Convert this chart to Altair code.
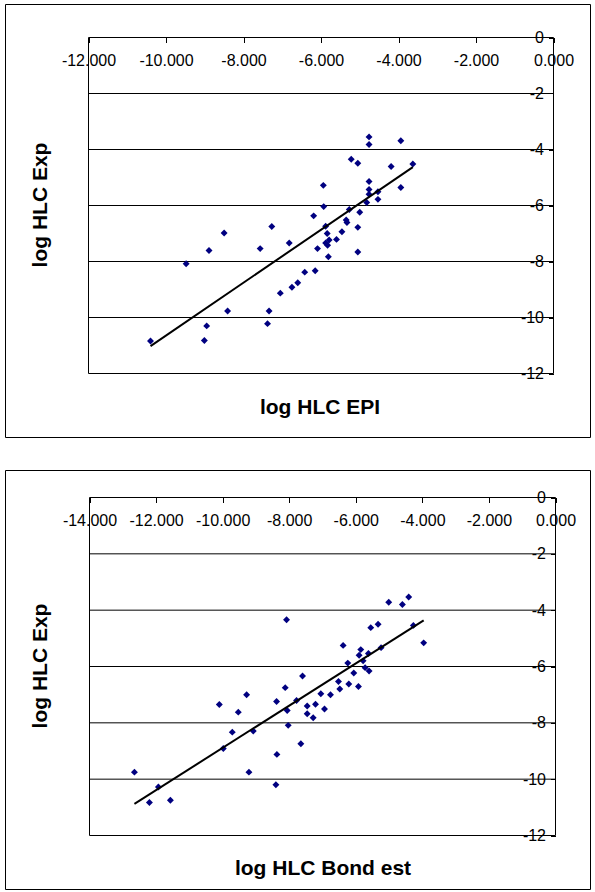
import altair as alt
import pandas as pd

# ---- data ----
epi_x = [-4.76, -4.76, -3.94, -5.22, -5.05, -4.19, -3.63, -5.94, -4.76, -3.94,
         -4.76, -4.53, -4.76, -4.53, -4.82, -5.93, -5.27, -5.00, -6.19, -5.35,
         -5.33, -5.88, -5.05, -7.27, -5.84, -5.46, -8.50, -5.60, -5.79, -5.88,
         -5.83, -6.82, -7.57, -6.09, -8.89, -5.81, -5.05, -9.48, -6.15, -6.42,
         -6.60, -6.75, -7.05, -7.34, -8.41, -7.38, -8.95, -9.01, -10.40]
epi_y = [-3.55, -3.82, -3.69, -4.35, -4.49, -4.61, -4.52, -5.28, -5.14, -5.36,
         -5.43, -5.51, -5.60, -5.78, -5.89, -6.04, -6.14, -6.24, -6.37, -6.52,
         -6.61, -6.74, -6.78, -6.75, -7.00, -6.94, -6.98, -7.21, -7.23, -7.34,
         -7.42, -7.34, -7.54, -7.54, -7.61, -7.83, -7.66, -8.08, -8.33, -8.38,
         -8.76, -8.92, -9.13, -9.77, -9.77, -10.22, -10.30, -10.82, -10.84]

bond_x = [-8.08, -5.01, -4.60, -4.41, -5.55, -5.33, -4.27, -3.96, -6.38, -5.85,
          -5.24, -5.62, -5.90, -5.78, -6.24, -5.72, -5.60, -6.06, -6.52, -6.21,
          -5.92, -6.48, -7.60, -8.12, -7.05, -6.76, -9.28, -8.38, -7.78, -10.10,
          -7.46, -7.21, -8.06, -6.94, -9.53, -7.46, -7.28, -8.03, -9.71, -9.08,
          -7.65, -9.98, -12.65, -11.93, -12.20, -11.57, -9.21, -8.37, -8.40]
bond_y = [-4.34, -3.72, -3.80, -3.53, -4.62, -4.50, -4.54, -5.16, -5.25, -5.40,
          -5.33, -5.54, -5.60, -5.80, -5.88, -6.04, -6.16, -6.23, -6.53, -6.62,
          -6.71, -6.80, -6.34, -6.75, -6.97, -7.00, -7.00, -7.24, -7.21, -7.35,
          -7.40, -7.34, -7.56, -7.51, -7.62, -7.68, -7.82, -8.09, -8.33, -8.29,
          -8.74, -8.91, -9.75, -10.28, -10.83, -10.75, -9.75, -9.12, -10.20]

grid_levels = [-2, -4, -6, -8, -10]
x_ticks_top = [-12, -10, -8, -6, -4, -2, 0]
x_ticks_bottom = [-14, -12, -10, -8, -6, -4, -2, 0]
y_ticks = [0, -2, -4, -6, -8, -10, -12]

x_title_top = "log HLC EPI"
x_title_bottom = "log HLC Bond est"
y_title = "log HLC Exp"

W, H = 595, 892
FONT = "Liberation Sans"
LABEL_SIZE = 16
TITLE_SIZE = 21
MINUS = "\u2212"


def panel(xs, ys, xdom, xrange_px, yrange_px, xticks):
    df = pd.DataFrame({"x": xs, "y": ys})
    xscale = alt.Scale(domain=xdom, range=xrange_px, nice=False, zero=False)
    yscale = alt.Scale(domain=[-12, 0], range=yrange_px, nice=False, zero=False)
    xaxis = alt.Axis(
        orient="bottom", offset=-(H - yrange_px[1]), values=xticks, title=None,
        domain=False, grid=False, ticks=True, tickSize=5, tickColor="black",
        tickWidth=1, labelFont=FONT, labelFontSize=LABEL_SIZE, labelColor="black",
        labelFlush=False, labelOverlap=False, labelBound=False, labelPadding=10,
        labelExpr=f"replace(format(datum.value, '.3f'), '{MINUS}', '-')",
    )
    yaxis = alt.Axis(
        orient="left", offset=-xrange_px[1], values=y_ticks, title=None,
        domain=False, grid=False, ticks=True, tickSize=5, tickColor="black",
        tickWidth=1, labelFont=FONT, labelFontSize=LABEL_SIZE, labelColor="black",
        labelFlush=False, labelOverlap=False, labelBound=False, labelPadding=5,
        labelExpr=f"replace(format(datum.value, 'd'), '{MINUS}', '-')",
    )
    X = alt.X("x:Q", scale=xscale, axis=xaxis)
    Y = alt.Y("y:Q", scale=yscale, axis=yaxis)

    grid_df = pd.DataFrame({"y": grid_levels, "x": xdom[0], "x2": xdom[1]})
    grid = alt.Chart(grid_df).mark_rule(color="black", strokeWidth=1).encode(
        x=X, x2="x2:Q", y=Y)

    box_df = pd.DataFrame({"x": [xdom[0]], "x2": [xdom[1]], "y": [-12], "y2": [0]})
    box = alt.Chart(box_df).mark_rect(
        fill="white", fillOpacity=0, stroke="black", strokeWidth=1).encode(
        x=X, x2="x2:Q", y=Y, y2="y2:Q")

    pts = alt.Chart(df).mark_point(
        shape="diamond", filled=True, size=48, color="#000080", opacity=1,
        strokeWidth=0).encode(x=X, y=Y)

    trend = alt.Chart(df).transform_regression("x", "y").mark_line(
        color="black", strokeWidth=2).encode(x=X, y=Y)

    return alt.layer(grid, box, pts, trend)


top = panel(epi_x, epi_y, [-12, 0], [88.5, 553.5], [373.5, 37.5], x_ticks_top)
bottom = panel(bond_x, bond_y, [-14, 0], [89.5, 555.5], [835.5, 497.5], x_ticks_bottom)

one = alt.Data(values=[{}])


def frame(x0, x1, y0, y1):
    return alt.Chart(one).mark_rect(
        fill="white", fillOpacity=0, stroke="black", strokeWidth=1).encode(
        x=alt.value(x0), x2=alt.value(x1), y=alt.value(y0), y2=alt.value(y1))


def label(text, x, y, angle=0):
    return alt.Chart(one).mark_text(
        text=text, font=FONT, fontSize=TITLE_SIZE, fontWeight="bold",
        color="black", align="center", baseline="alphabetic", angle=angle).encode(
        x=alt.value(x), y=alt.value(y))


chart = alt.layer(
    frame(5.5, 590.5, 4.5, 437.5),
    frame(5.5, 590.5, 470.5, 889.5),
    top,
    bottom,
    label(x_title_top, 320, 414),
    label(x_title_bottom, 323, 875),
    label(y_title, 47, 205, 270),
    label(y_title, 47, 666, 270),
).resolve_scale(x="independent", y="independent").properties(
    width=W, height=H, padding=0,
    autosize=alt.AutoSizeParams(type="none"),
    background="white",
).configure_view(stroke=None)

chart.save("out.html", embed_options={"renderer": "svg", "actions": False})
